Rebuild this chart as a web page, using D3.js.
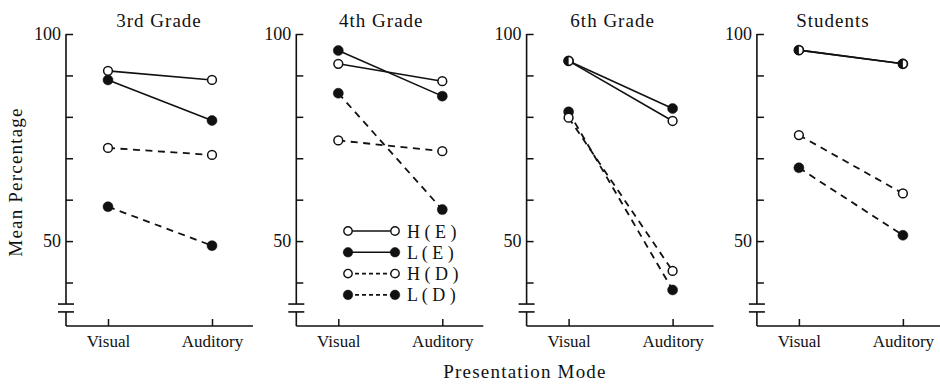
<!DOCTYPE html>
<html>
<head>
<meta charset="utf-8">
<script src="https://cdn.jsdelivr.net/npm/d3@7"></script>
<style>
  body { margin: 0; background: #fff; }
  text { font-family: "Liberation Serif", "Times New Roman", serif; fill: #111; }
</style>
</head>
<body>
<script>
(function() {

// values (mean percentage)
const panels = ["3rd Grade", "4th Grade", "6th Grade", "Students"];
const modes = ["Visual", "Auditory"];
const yTicks = [40, 50, 60, 70, 80, 90, 100];
const yLabels = [50, 100];
const legendLabels = ["H ( E )", "L ( E )", "H ( D )", "L ( D )"];

// one [Visual, Auditory] pair per panel
const hE = [[91.1, 88.9], [92.8, 88.6], [93.5, 79.0], [96.1, 92.8]];
const lE = [[88.9, 79.1], [96.0, 85.0], [93.5, 82.0], [96.1, 92.8]];
const hD = [[72.5, 70.8], [74.3, 71.7], [79.8, 42.8], [75.6, 61.5]];
const lD = [[58.3, 48.9], [85.7, 57.6], [81.2, 38.2], [67.7, 51.4]];

const series = [
    {data: hE, filled: false, dash: null},
    {data: lE, filled: true, dash: null},
    {data: hD, filled: false, dash: "7,5.5"},
    {data: lD, filled: true, dash: "7,5.5"}
];

const width = 940, height = 385;
const ink = "#111";
const axisLen = 187;
const breakHi = 34.8, breakLo = 32.9;
const titleDx = [93, 85, 86, 76];

const svg = d3.select("body").append("svg")
    .attr("width", width)
    .attr("height", height);

svg.append("rect").attr("width", width).attr("height", height).attr("fill", "#fff");

const y = d3.scaleLinear().domain([29.5, 100]).range([326, 34]);
const x = d3.scalePoint().domain(modes).range([42, 146]);

const line = d3.line()
    .x((d, i) => x(modes[i]))
    .y(d => y(d));

panels.forEach((name, p) => {
    const g = svg.append("g").attr("transform", `translate(${66 + p * 230.3},0)`);

    // y axis with inward ticks
    const ya = g.append("g")
        .call(d3.axisLeft(y).tickValues(yTicks).tickSizeInner(-7).tickSizeOuter(0).tickPadding(5)
            .tickFormat(d => yLabels.includes(d) ? d : ""));
    ya.select(".domain").remove();
    ya.selectAll("line").attr("stroke", ink).attr("stroke-width", 1.5);
    ya.selectAll("text").attr("font-family", "Liberation Serif").attr("font-size", 18).attr("fill", ink);

    // axis line with a break near the bottom
    g.append("line").attr("x1", 0).attr("x2", 0).attr("y1", y(100)).attr("y2", y(breakHi))
        .attr("stroke", ink).attr("stroke-width", 1.6);
    g.append("line").attr("x1", 0).attr("x2", 0).attr("y1", y(breakLo)).attr("y2", y.range()[0])
        .attr("stroke", ink).attr("stroke-width", 1.6);
    [breakHi, breakLo].forEach(v => {
        g.append("line").attr("x1", -8).attr("x2", 8).attr("y1", y(v)).attr("y2", y(v))
            .attr("stroke", ink).attr("stroke-width", 1.6);
    });

    // x axis
    const xa = g.append("g").attr("transform", `translate(0,${y.range()[0]})`)
        .call(d3.axisBottom(x).tickSizeInner(-7).tickSizeOuter(0).tickPadding(9));
    xa.select(".domain").remove();
    xa.selectAll("line").attr("stroke", ink).attr("stroke-width", 1.5);
    xa.selectAll("text").attr("font-family", "Liberation Serif").attr("font-size", 17).attr("fill", ink);
    g.append("line").attr("x1", 0).attr("x2", p === panels.length - 1 ? axisLen + 10 : axisLen)
        .attr("y1", y.range()[0]).attr("y2", y.range()[0])
        .attr("stroke", ink).attr("stroke-width", 1.6);

    // title
    g.append("text")
        .attr("x", titleDx[p])
        .attr("y", 27)
        .attr("text-anchor", "middle")
        .attr("font-size", 19)
        .attr("letter-spacing", 1)
        .text(name);

    // lines
    series.forEach(s => {
        g.append("path")
            .attr("d", line(s.data[p]))
            .attr("fill", "none")
            .attr("stroke", ink)
            .attr("stroke-width", s.dash ? 1.8 : 1.6)
            .attr("stroke-dasharray", s.dash);
    });

    // markers: filled first, open on top
    const drawMarkers = filled => series.filter(s => s.filled === filled).forEach(s => {
        g.selectAll(null)
            .data(s.data[p])
            .join("circle")
            .attr("cx", (d, i) => x(modes[i]))
            .attr("cy", d => y(d))
            .attr("r", filled ? 5 : 4.4)
            .attr("fill", filled ? ink : "#fff")
            .attr("stroke", ink)
            .attr("stroke-width", filled ? 0.5 : 1.5);
    });
    drawMarkers(true);
    drawMarkers(false);

    // where H(E) and L(E) coincide the symbol is half filled
    const half = d3.arc().innerRadius(0).outerRadius(4.8).startAngle(Math.PI).endAngle(2 * Math.PI);
    lE[p].forEach((v, i) => {
        if (v === hE[p][i]) {
            g.append("path")
                .attr("d", half())
                .attr("transform", `translate(${x(modes[i])},${y(v)})`)
                .attr("fill", ink);
        }
    });
});

// legend inside the 4th grade panel
const legend = svg.append("g").attr("transform", "translate(348,231)");
series.forEach((s, i) => {
    const row = legend.append("g").attr("transform", `translate(0,${i * 21.3})`);
    row.append("line").attr("x1", 0).attr("x2", 47)
        .attr("stroke", ink).attr("stroke-width", 1.6)
        .attr("stroke-dasharray", s.dash ? "4,3" : null);
    [0, 47].forEach(cx => {
        row.append("circle").attr("cx", cx).attr("r", s.filled ? 4.8 : 4.2)
            .attr("fill", s.filled ? ink : "#fff")
            .attr("stroke", ink).attr("stroke-width", s.filled ? 0.5 : 1.4);
    });
    row.append("text").attr("x", 59).attr("y", 6.5).attr("font-size", 18).text(legendLabels[i]);
});

// shared axis titles
svg.append("text")
    .attr("transform", "translate(22,182) rotate(-90)")
    .attr("text-anchor", "middle")
    .attr("font-size", 19)
    .attr("letter-spacing", 1.2)
    .text("Mean Percentage");

svg.append("text")
    .attr("x", 525)
    .attr("y", 378)
    .attr("text-anchor", "middle")
    .attr("font-size", 19)
    .attr("letter-spacing", 1.2)
    .text("Presentation Mode");

})();
</script>
</body>
</html>
